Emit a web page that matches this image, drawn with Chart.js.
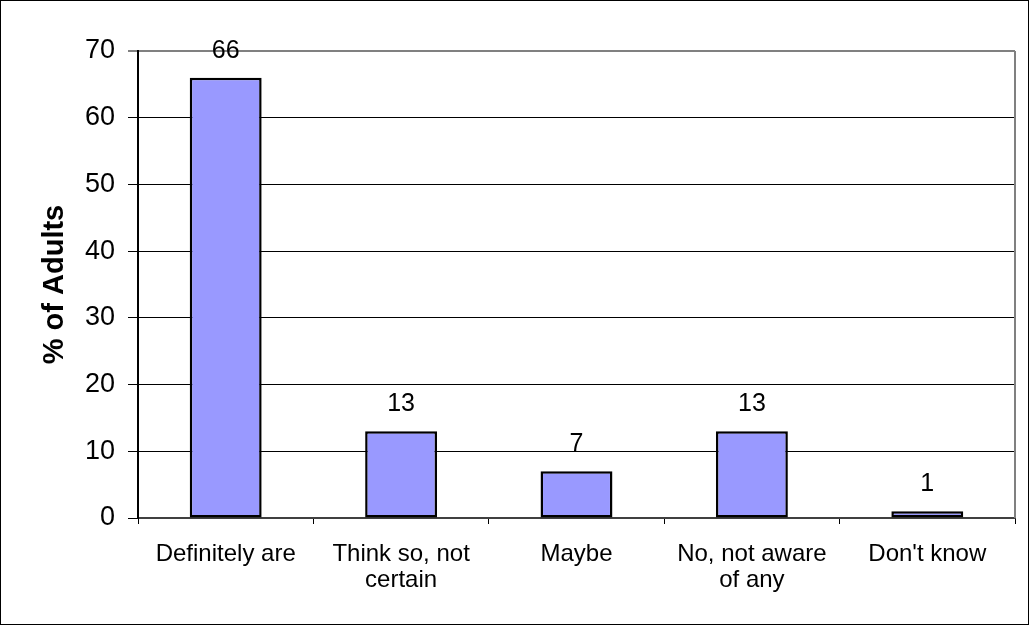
<!DOCTYPE html>
<html>
<head>
<meta charset="utf-8">
<script src="https://cdn.jsdelivr.net/npm/chart.js@4"></script>
<style>
  html, body { margin: 0; padding: 0; background: #fff; }
  #wrap { width: 1029px; height: 625px; }
</style>
</head>
<body>
<div id="wrap"><canvas id="chart" width="1029" height="625"></canvas></div>
<script>
const categories = ['Definitely are', ['Think so, not', 'certain'], 'Maybe', ['No, not aware', 'of any'], "Don't know"];
const values = [66, 13, 7, 13, 1];
const yMin = 0, yMax = 70, yStep = 10;
const yTitle = '% of Adults';

// value labels above each bar
const barLabels = {
  id: 'barLabels',
  afterDatasetsDraw(chart) {
    const ctx = chart.ctx;
    const meta = chart.getDatasetMeta(0);
    ctx.save();
    ctx.fillStyle = '#000';
    ctx.font = '25px Arial, "Liberation Sans"';
    ctx.textAlign = 'center';
    ctx.textBaseline = 'alphabetic';
    meta.data.forEach((bar, i) => {
      ctx.fillText(String(values[i]), bar.x, bar.y - 20);
    });
    ctx.restore();
  }
};

// grey plot-area right edge and outer frame
const frame = {
  id: 'frame',
  afterDraw(chart) {
    const ctx = chart.ctx;
    const a = chart.chartArea;
    ctx.save();
    ctx.strokeStyle = '#808080';
    ctx.lineWidth = 2;
    ctx.beginPath();
    ctx.moveTo(a.right, a.top);
    ctx.lineTo(a.right, a.bottom);
    ctx.stroke();
    ctx.strokeStyle = '#000';
    ctx.lineWidth = 1;
    ctx.strokeRect(0.5, 0.5, chart.width - 1, chart.height - 1);
    ctx.restore();
  }
};

new Chart(document.getElementById('chart'), {
  type: 'bar',
  data: {
    labels: categories,
    datasets: [{
      data: values,
      backgroundColor: '#9999FF',
      borderColor: '#000',
      borderWidth: 2.5,
      borderSkipped: false,
      categoryPercentage: 1,
      barPercentage: 0.41
    }]
  },
  options: {
    responsive: false,
    animation: false,
    devicePixelRatio: 1,
    layout: { padding: { top: 51, right: 14, left: 0, bottom: 0 } },
    plugins: {
      legend: { display: false },
      tooltip: { enabled: false }
    },
    scales: {
      x: {
        afterFit(s) { s.height = 107; },
        grid: {
          offset: true,
          drawOnChartArea: false,
          tickLength: 6,
          color: '#000'
        },
        border: { color: '#404040', width: 2 },
        ticks: {
          color: '#000',
          padding: 17,
          maxRotation: 0,
          autoSkip: false,
          font: { family: 'Arial, "Liberation Sans"', size: 24, lineHeight: 1.1 }
        }
      },
      y: {
        min: yMin,
        max: yMax,
        afterFit(s) { s.width = 138; },
        grid: {
          color: ctx => (ctx.tick && ctx.tick.value === yMax) ? '#808080' : '#000',
          lineWidth: ctx => (ctx.tick && ctx.tick.value === yMax) ? 2 : 1,
          tickLength: 10
        },
        border: { color: '#000', width: 2 },
        ticks: {
          stepSize: yStep,
          color: '#000',
          padding: 13,
          font: { family: 'Arial, "Liberation Sans"', size: 27 }
        },
        title: {
          display: true,
          text: yTitle,
          color: '#000',
          padding: { top: 38, bottom: 0 },
          font: { family: 'Arial, "Liberation Sans"', size: 29, weight: 'bold' }
        }
      }
    }
  },
  plugins: [barLabels, frame]
});
</script>
</body>
</html>
